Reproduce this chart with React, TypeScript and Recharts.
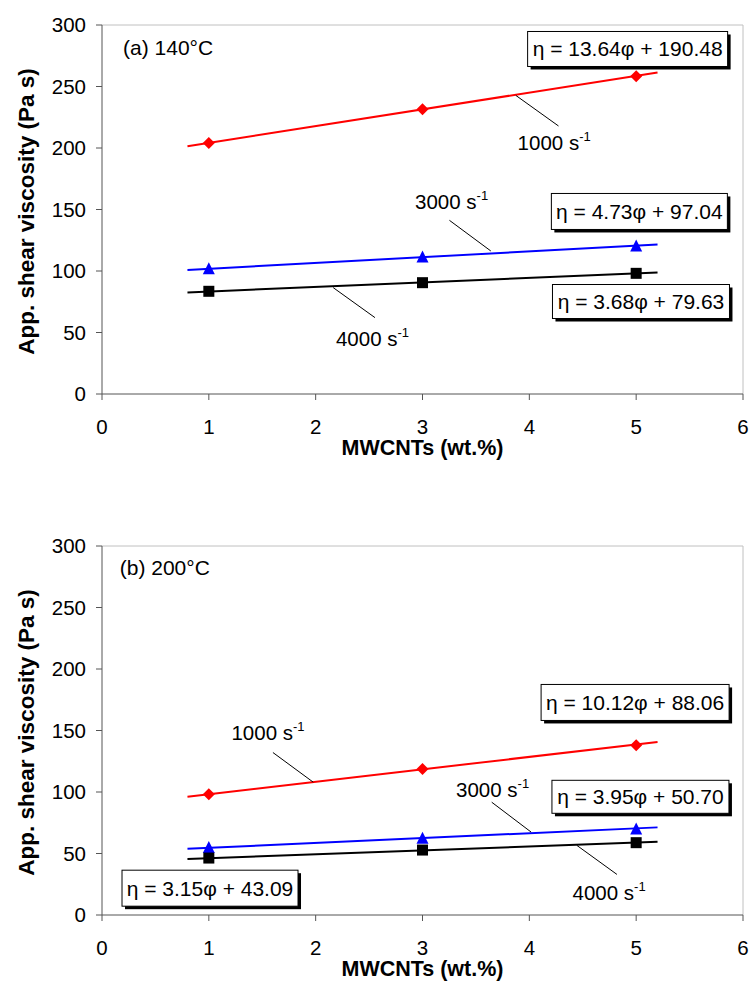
import React from 'react';
import {
  ComposedChart,
  Line,
  Scatter,
  XAxis,
  YAxis,
  ReferenceLine,
  ReferenceDot,
  Label,
} from 'recharts';

// MWCNT loadings (wt.%) where viscosity was measured
const loadings = [1, 3, 5];
const xTicks = [0, 1, 2, 3, 4, 5, 6];
const yTicks = [0, 50, 100, 150, 200, 250, 300];

// (a) 140°C, apparent shear viscosity (Pa s)
const a1000 = [204, 231.5, 258.3];
const a3000 = [101.4, 110.9, 120];
const a4000 = [83.5, 90.5, 98.1];
const aSlopes = [13.64, 4.73, 3.68];
const aIntercepts = [190.48, 97.04, 79.63];

// (b) 200°C
const b1000 = [98.2, 118.8, 138];
const b3000 = [54.4, 62, 69.6];
const b4000 = [46.3, 52.8, 58.8];
const bSlopes = [10.12, 3.95, 3.15];
const bIntercepts = [88.06, 50.7, 43.09];

// linear fits are drawn a little past the first and last loading
const fitRange = [0.8, 5.2];

const FONT = 'Arial, "Liberation Sans", sans-serif';
const W = 750;
const H = 464;

const toPoints = (vals: number[]) => loadings.map((x, i) => ({ x, y: vals[i] }));
const fitLine = (m: number, c: number) =>
  fitRange.map((x) => ({ x, y: +(m * x + c).toFixed(3) }));
const eqText = (m: number, c: number) => `η = ${m.toFixed(2)}φ + ${c.toFixed(2)}`;

const XTick = ({ x, y, payload }: any) => (
  <text x={x} y={y} dy="0.72em" textAnchor="middle" fontFamily={FONT} fontSize={20.5} fill="#000">
    {payload.value}
  </text>
);
const YTick = ({ x, y, payload }: any) => (
  <text x={x} y={y} dy="0.36em" textAnchor="end" fontFamily={FONT} fontSize={20.5} fill="#000">
    {payload.value}
  </text>
);

const Diamond = (p: any) => (
  <path
    d={`M${p.cx},${p.cy - 6} L${p.cx + 6},${p.cy} L${p.cx},${p.cy + 6} L${p.cx - 6},${p.cy} Z`}
    fill="#ff0000"
  />
);
const Triangle = (p: any) => (
  <path
    d={`M${p.cx},${p.cy - 7} L${p.cx + 6},${p.cy + 5} L${p.cx - 6},${p.cy + 5} Z`}
    fill="#0000ff"
  />
);
const Square = (p: any) => (
  <rect x={p.cx - 5.5} y={p.cy - 5.5} width={11} height={11} fill="#000" />
);

type Series = { vals: number[]; m: number; c: number; color: string; shape: any };
type Box = { x: number; y: number; w: number; h: number; text: string };
type Rate = { x: number; y: number; rate: string };
type Leader = { x1: number; y1: number; x2: number; y2: number };

const eqBox = (b: Box) => (p: any) => (
  <g>
    <rect x={p.cx - b.w / 2 + 3} y={p.cy - b.h / 2 + 3} width={b.w} height={b.h} fill="#000" />
    <rect
      x={p.cx - b.w / 2}
      y={p.cy - b.h / 2}
      width={b.w}
      height={b.h}
      fill="#fff"
      stroke="#000"
      strokeWidth={1}
    />
    <text
      x={p.cx}
      y={p.cy + 7.5}
      textAnchor="middle"
      fontFamily={FONT}
      fontSize={21}
      fill="#000"
    >
      {b.text}
    </text>
  </g>
);

const rateLabel = (r: Rate) => (p: any) => (
  <text x={p.cx} y={p.cy + 7} fontFamily={FONT} fontSize={20.5} fill="#000">
    {r.rate} s
    <tspan fontSize={13} dy={-9}>
      -1
    </tspan>
  </text>
);

const titleLabel = (t: string) => (p: any) => (
  <text x={p.cx} y={p.cy + 7.5} fontFamily={FONT} fontSize={21} fill="#000">
    {t}
  </text>
);

interface PanelProps {
  top: number;
  title: string;
  titleAt: { x: number; y: number };
  series: Series[];
  boxes: Box[];
  rates: Rate[];
  leaders: Leader[];
}

const Panel: React.FC<PanelProps> = ({ top, title, titleAt, series, boxes, rates, leaders }) => (
  <div style={{ position: 'absolute', left: 0, top, width: W, height: H }}>
    <ComposedChart width={W} height={H} margin={{ top: 25, right: 7, left: 4, bottom: 40 }}>
      <XAxis
        dataKey="x"
        type="number"
        domain={[0, 6]}
        ticks={xTicks}
        height={30}
        stroke="#555"
        tickSize={6}
        tickMargin={19}
        tick={<XTick />}
        allowDataOverflow
      >
        <Label
          content={({ viewBox }: any) => (
            <text
              x={viewBox.x + viewBox.width / 2}
              y={viewBox.y + 61}
              textAnchor="middle"
              fontFamily={FONT}
              fontWeight="bold"
              fontSize={21.5}
              fill="#000"
            >
              MWCNTs (wt.%)
            </text>
          )}
        />
      </XAxis>
      <YAxis
        dataKey="y"
        type="number"
        domain={[0, 300]}
        ticks={yTicks}
        width={98}
        stroke="#555"
        tickSize={6}
        tickMargin={10}
        tick={<YTick />}
        allowDataOverflow
      >
        <Label
          content={({ viewBox }: any) => {
            const cx = viewBox.x + 30;
            const cy = viewBox.y + viewBox.height / 2 + 2;
            return (
              <text
                x={cx}
                y={cy}
                transform={`rotate(-90 ${cx} ${cy})`}
                textAnchor="middle"
                fontFamily={FONT}
                fontWeight="bold"
                fontSize={22.5}
                fill="#000"
              >
                App. shear viscosity (Pa s)
              </text>
            );
          }}
        />
      </YAxis>
      {/* light frame on top and right of the plot area */}
      <ReferenceLine y={300} stroke="#c0c0c0" strokeWidth={1} />
      <ReferenceLine x={6} stroke="#c0c0c0" strokeWidth={1} />

      {series.map((s, i) => (
        <Line
          key={`fit${i}`}
          data={fitLine(s.m, s.c)}
          dataKey="y"
          stroke={s.color}
          strokeWidth={2}
          dot={false}
          isAnimationActive={false}
        />
      ))}
      {series.map((s, i) => (
        <Scatter
          key={`pts${i}`}
          data={toPoints(s.vals)}
          dataKey="y"
          fill={s.color}
          shape={s.shape}
          isAnimationActive={false}
        />
      ))}

      {leaders.map((l, i) => (
        <ReferenceLine
          key={`ld${i}`}
          segment={[
            { x: l.x1, y: l.y1 },
            { x: l.x2, y: l.y2 },
          ]}
          stroke="#000"
          strokeWidth={1}
        />
      ))}
      <ReferenceDot x={titleAt.x} y={titleAt.y} shape={titleLabel(title)} />
      {rates.map((r, i) => (
        <ReferenceDot key={`rt${i}`} x={r.x} y={r.y} shape={rateLabel(r)} />
      ))}
      {boxes.map((b, i) => (
        <ReferenceDot key={`bx${i}`} x={b.x} y={b.y} shape={eqBox(b)} />
      ))}
    </ComposedChart>
  </div>
);

export default function App() {
  const aSeries: Series[] = [
    { vals: a1000, m: aSlopes[0], c: aIntercepts[0], color: '#ff0000', shape: Diamond },
    { vals: a3000, m: aSlopes[1], c: aIntercepts[1], color: '#0000ff', shape: Triangle },
    { vals: a4000, m: aSlopes[2], c: aIntercepts[2], color: '#000000', shape: Square },
  ];
  const bSeries: Series[] = [
    { vals: b1000, m: bSlopes[0], c: bIntercepts[0], color: '#ff0000', shape: Diamond },
    { vals: b3000, m: bSlopes[1], c: bIntercepts[1], color: '#0000ff', shape: Triangle },
    { vals: b4000, m: bSlopes[2], c: bIntercepts[2], color: '#000000', shape: Square },
  ];

  return (
    <div style={{ position: 'absolute', left: 0, top: 0, width: W, height: 985, background: '#fff' }}>
      <Panel
        top={0}
        title="(a) 140°C"
        titleAt={{ x: 0.197, y: 282 }}
        series={aSeries}
        boxes={[
          { x: 4.92, y: 280.5, w: 200, h: 35, text: eqText(aSlopes[0], aIntercepts[0]) },
          { x: 5.03, y: 148.4, w: 176, h: 36, text: eqText(aSlopes[1], aIntercepts[1]) },
          { x: 5.045, y: 75.2, w: 177, h: 34, text: eqText(aSlopes[2], aIntercepts[2]) },
        ]}
        rates={[
          { x: 3.89, y: 204, rate: '1000' },
          { x: 2.93, y: 156.1, rate: '3000' },
          { x: 2.19, y: 45, rate: '4000' },
        ]}
        leaders={[
          { x1: 3.873, y1: 242.8, x2: 4.273, y2: 217.9 },
          { x1: 3.252, y1: 141.2, x2: 3.639, y2: 116.3 },
          { x1: 2.164, y1: 86.5, x2: 2.555, y2: 62.1 },
        ]}
      />
      <Panel
        top={521}
        title="(b) 200°C"
        titleAt={{ x: 0.166, y: 282.5 }}
        series={bSeries}
        boxes={[
          { x: 4.99, y: 172.8, w: 188, h: 36, text: eqText(bSlopes[0], bIntercepts[0]) },
          { x: 5.04, y: 96.1, w: 177, h: 33, text: eqText(bSlopes[1], bIntercepts[1]) },
          { x: 1.011, y: 21.8, w: 176, h: 36, text: eqText(bSlopes[2], bIntercepts[2]) },
        ]}
        rates={[
          { x: 1.212, y: 148.3, rate: '1000' },
          { x: 3.314, y: 101.5, rate: '3000' },
          { x: 4.404, y: 18.2, rate: '4000' },
        ]}
        leaders={[
          { x1: 1.6, y1: 132.1, x2: 1.977, y2: 108 },
          { x1: 3.648, y1: 91.7, x2: 4.017, y2: 67.4 },
          { x1: 4.445, y1: 56.6, x2: 4.82, y2: 33 },
        ]}
      />
    </div>
  );
}
